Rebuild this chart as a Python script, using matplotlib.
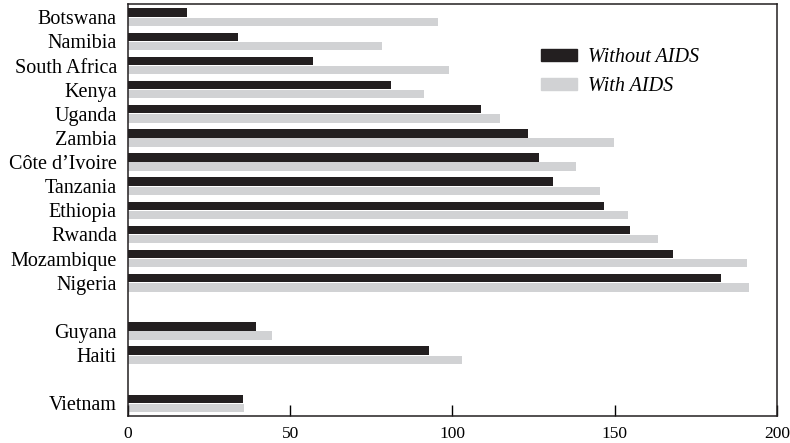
import matplotlib.pyplot as plt
from matplotlib.patches import Patch

# data
countries = ["Botswana", "Namibia", "South Africa", "Kenya", "Uganda", "Zambia",
             "Côte d\u2019Ivoire", "Tanzania", "Ethiopia", "Rwanda", "Mozambique",
             "Nigeria", "Guyana", "Haiti", "Vietnam"]
without_aids = [18.2, 33.8, 56.9, 81.0, 108.8, 123.3, 126.7, 131.0, 146.7,
                154.7, 168.0, 182.7, 39.5, 92.9, 35.5]
with_aids = [95.5, 78.2, 98.9, 91.2, 114.6, 149.8, 138.0, 145.5, 154.1,
             163.3, 190.8, 191.4, 44.5, 102.8, 35.8]
# row slots (gaps between regions)
rows = [0, 1, 2, 3, 4, 5, 6, 7, 8, 9, 10, 11, 13, 14, 16]
xticks = [0, 50, 100, 150, 200]

dark = "#231f20"
light = "#d1d2d4"

plt.rcParams["font.family"] = ["Liberation Serif", "DejaVu Serif"]

fig = plt.figure(figsize=(7.9, 4.43), dpi=100)
ax = fig.add_axes([0.162, 0.061, 0.8215, 0.930])

h = 0.35
ax.barh([r - 0.19 for r in rows], without_aids, height=h, color=dark)
ax.barh([r + 0.19 for r in rows], with_aids, height=h, color=light)

ax.set_ylim(16.52, -0.55)
ax.set_xlim(0, 200)
ax.set_yticks(rows)
ax.set_yticklabels(countries, fontsize=14.5)
ax.tick_params(axis="y", length=0, pad=8)
ax.set_xticks(xticks)
ax.set_xticklabels([str(t) for t in xticks], fontsize=12.5)
ax.tick_params(axis="x", direction="in", length=8, width=1, pad=7, colors="black")
for s in ax.spines.values():
    s.set_linewidth(1.1)
    s.set_color("#231f20")

handles = [Patch(color=dark, label="Without AIDS"), Patch(color=light, label="With AIDS")]
ax.legend(handles=handles, loc="upper left", bbox_to_anchor=(0.636, 0.893),
          frameon=False, borderpad=0, borderaxespad=0, handlelength=1.8,
          handleheight=0.6, handletextpad=0.55, labelspacing=0.5,
          prop={"size": 14.5, "style": "italic"})

fig.savefig("out.png", dpi=100)
